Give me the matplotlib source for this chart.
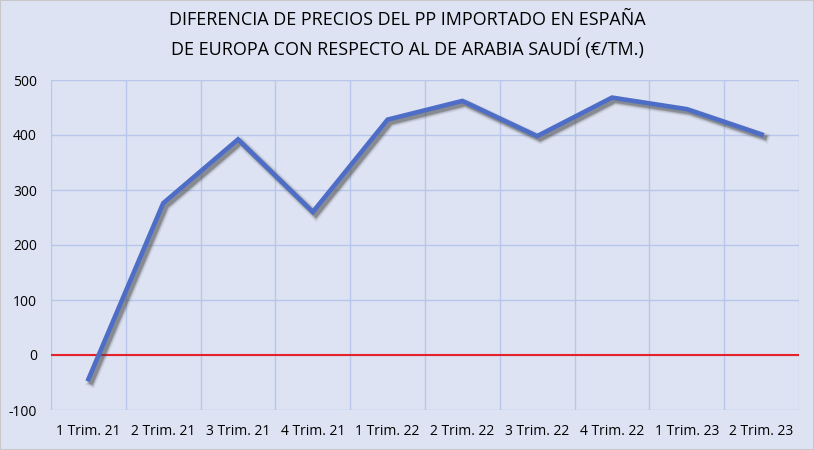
import matplotlib
matplotlib.use("Agg")
import matplotlib.pyplot as plt
import matplotlib.patheffects as pe
import numpy as np

categories = ["1 Trim. 21", "2 Trim. 21", "3 Trim. 21", "4 Trim. 21", "1 Trim. 22",
              "2 Trim. 22", "3 Trim. 22", "4 Trim. 22", "1 Trim. 23", "2 Trim. 23"]
values = [-44, 276, 392, 260, 428, 462, 398, 468, 447, 401]
yticks = [-100, 0, 100, 200, 300, 400, 500]
title = "DIFERENCIA DE PRECIOS DEL PP IMPORTADO EN ESPAÑA\nDE EUROPA CON RESPECTO AL DE ARABIA SAUDÍ (€/TM.)"

plt.rcParams['font.family'] = ['Open Sans', 'DejaVu Sans']
bg = "#dde3f3"
fig = plt.figure(figsize=(8.14, 4.5), dpi=100, facecolor=bg)
ax = fig.add_axes([51/814, 40/450, 748/814, 330/450])
ax.set_facecolor(bg)

x = np.arange(len(categories))
shadow = [pe.Stroke(offset=(2.2, -2.2), linewidth=lw, foreground='#4a4a4a', alpha=a)
          for lw, a in [(7, 0.08), (5.5, 0.12), (4, 0.25), (3, 0.3)]]
ax.plot(x, values, color="#4d6dc7", lw=3.3, solid_joinstyle='miter', zorder=3,
        path_effects=shadow + [pe.Normal()])
ax.axhline(0, color="#e8202a", lw=1.5, zorder=2)

ax.set_xlim(-0.5, len(categories) - 0.5)
ax.set_ylim(-100, 500)
ax.set_yticks(yticks)
ax.set_yticklabels([str(v) for v in yticks], fontsize=10)
ax.set_xticks(x)
ax.set_xticklabels(categories, fontsize=10)
ax.set_xticks(np.arange(-0.5, len(categories), 1), minor=True)
ax.tick_params(which='both', length=0)
ax.tick_params(axis='x', pad=10)
ax.tick_params(axis='y', pad=10)
ax.grid(True, which='minor', axis='x', color="#b7c6ea", lw=1)
ax.grid(True, which='major', axis='y', color="#b7c6ea", lw=1)
for s in ax.spines.values():
    s.set_visible(False)
ax.set_axisbelow(True)

fig.text(0.5, 1 - 35/450, title, ha='center', va='center', fontsize=13, linespacing=1.6)
fig.patches.append(plt.Rectangle((0, 0), 1, 1, transform=fig.transFigure, fill=False,
                                 edgecolor="#c8c8c8", lw=1.5))
fig.savefig("out.png", dpi=100, facecolor=bg)
